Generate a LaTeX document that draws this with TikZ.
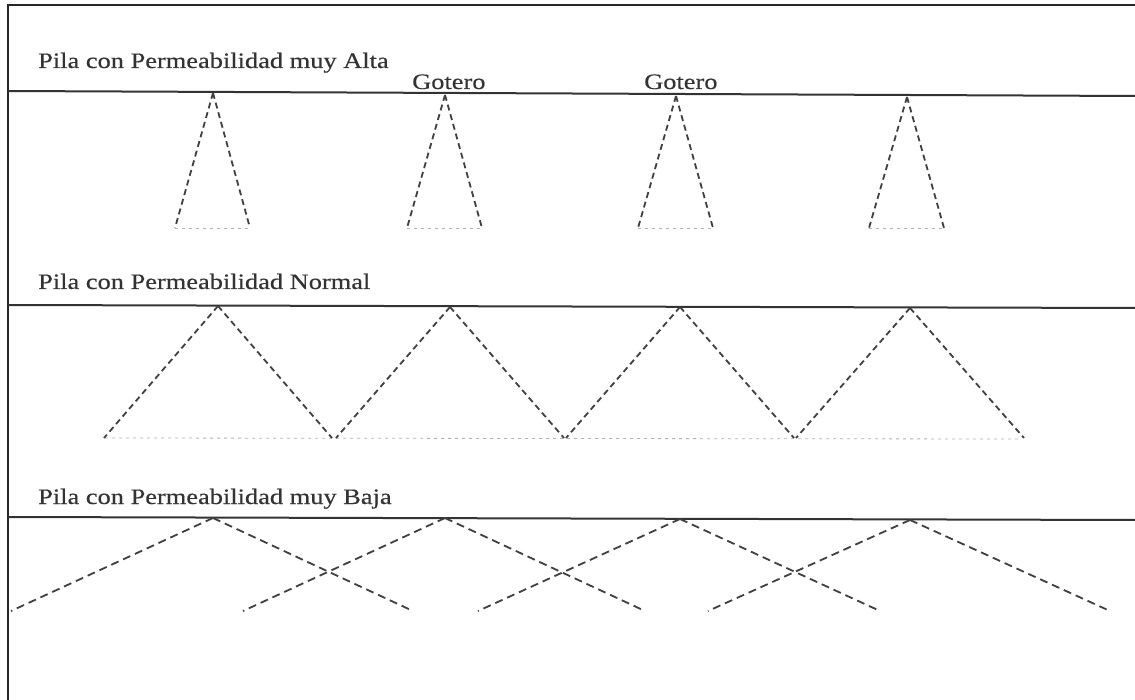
\documentclass[tikz,border=0pt]{standalone}
\usepackage{fontspec}
\setmainfont{Liberation Serif}[FakeStretch=1.2,FakeBold=0.4]
\begin{document}
\begin{tikzpicture}[x=1pt,y=-1pt,
  frame/.style={line width=1.5pt, draw=black!85},
  pipe/.style={line width=2pt, draw=black!80},
  wet/.style={line width=1.8pt, draw=black!75, dash pattern=on 6pt off 4pt},
  wetlong/.style={line width=1.8pt, draw=black!75, dash pattern=on 8pt off 5pt},
  basefill/.style={line width=0.8pt, draw=black!30, dash pattern=on 3pt off 4pt},
  title/.style={anchor=base west, inner sep=0pt, font=\fontsize{22}{26}\selectfont, text=black!80},
]
\useasboundingbox (0,0) rectangle (1135,700);
\fill[white] (0,0) rectangle (1135,700);

% sheet border
\coordinate (fTR) at (1135,5);
\coordinate (fTL) at (8,5);
\coordinate (fBL) at (8,700);
\draw[frame] (fTR) -- (fTL) -- (fBL);

% ---------- very high permeability ----------
\node[title] (t1) at (38,68) {Pila con Permeabilidad muy Alta};
\node[title] (g1) at (412,89) {Gotero};
\node[title] (g2) at (644,89) {Gotero};
\coordinate (p1l) at (8,91);
\coordinate (p1r) at (1135,96);
\draw[pipe] (p1l) -- (p1r);
\foreach \i/\x/\y in {1/213/93, 2/445/95, 3/676/96, 4/907/97} {
  \coordinate (a\i) at (\x,\y);
  \coordinate (al\i) at (\x-38,228);
  \coordinate (ar\i) at (\x+37,228);
  \draw[basefill] (al\i) -- (ar\i);
  \draw[wet] (a\i) -- (al\i);
  \draw[wet] (a\i) -- (ar\i);
}

% ---------- normal permeability ----------
\node[title] (t2) at (38,289) {Pila con Permeabilidad Normal};
\coordinate (p2l) at (8,305);
\coordinate (p2r) at (1135,308);
\draw[pipe] (p2l) -- (p2r);
\coordinate (nb0) at (105,438);
\coordinate (nb4) at (1022,439);
\draw[basefill] (nb0) -- (nb4);
\foreach \i/\x/\y in {1/218/306, 2/450/307, 3/680/307, 4/910/308} {
  \coordinate (n\i) at (\x,\y);
  \coordinate (nl\i) at (\x-114,438);
  \coordinate (nr\i) at (\x+114,438);
  \draw[wet] (n\i) -- (nl\i);
  \draw[wet] (n\i) -- (nr\i);
}

% ---------- very low permeability ----------
\node[title] (t3) at (38,504) {Pila con Permeabilidad muy Baja};
\coordinate (p3l) at (8,517);
\coordinate (p3r) at (1135,520);
\draw[pipe] (p3l) -- (p3r);
\foreach \i/\x/\y in {1/213/518, 2/445/518, 3/680/519, 4/910/520} {
  \coordinate (b\i) at (\x,\y);
  \coordinate (bl\i) at (\x-202,611);
  \coordinate (br\i) at (\x+200,611);
  \draw[wetlong] (b\i) -- (bl\i);
  \draw[wetlong] (b\i) -- (br\i);
}
\end{tikzpicture}
\end{document}
